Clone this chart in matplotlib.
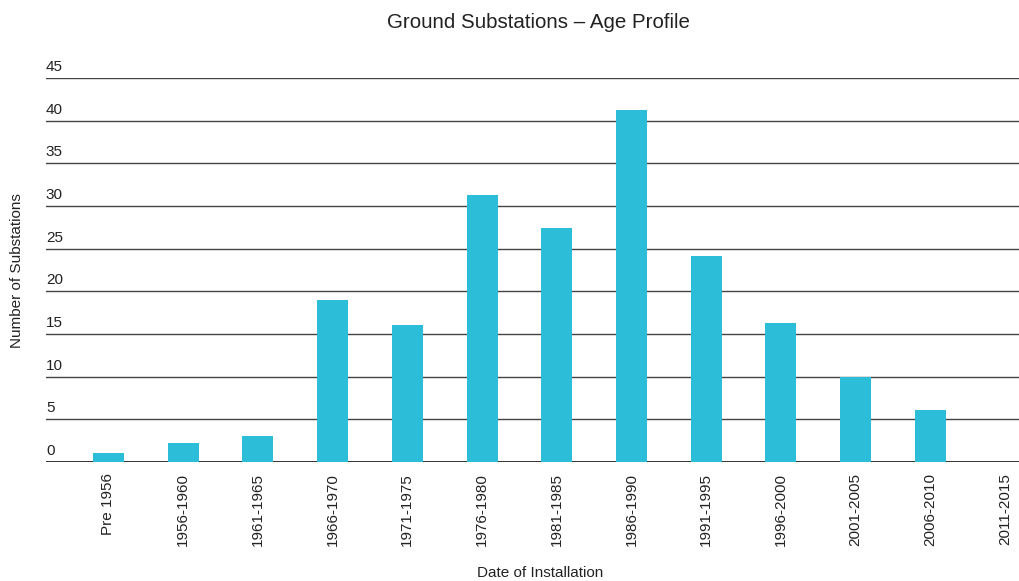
import numpy as np
import matplotlib.pyplot as plt
import matplotlib.transforms as mtransforms

plt.rcParams['font.family'] = ['Liberation Sans', 'DejaVu Sans']

periods = ['Pre 1956', '1956-1960', '1961-1965', '1966-1970', '1971-1975',
           '1976-1980', '1981-1985', '1986-1990', '1991-1995', '1996-2000',
           '2001-2005', '2006-2010', '2011-2015']
counts = [1, 2.2, 3, 19, 16, 31.3, 27.4, 41.2, 24.1, 16.3, 10, 6.1, 0]
yticks = np.arange(0, 50, 5)

fig = plt.figure(figsize=(10.2, 5.81), dpi=100)
ax = fig.add_axes([0.045, 0.2048, 0.955, 0.6609])

x = np.arange(len(periods))
ax.bar(x, counts, width=0.415, color='#2CBDD9', zorder=3)

# gridlines
for v in yticks:
    ax.axhline(v, color='#222222' if v == 0 else '#444444',
               lw=1.3 if v == 0 else 1.0, zorder=2)

ax.set_xlim(-0.837, 12.20)
ax.set_ylim(0, 45)
ax.set_xticks(x)
ax.set_xticklabels(periods, rotation=90, fontsize=11, color='#222222')
ax.tick_params(axis='x', length=0, pad=8)
ax.set_yticks([])

# y labels sit above their gridlines
off = mtransforms.ScaledTranslation(0, 4 / 100, fig.dpi_scale_trans)
tr = ax.get_yaxis_transform() + off
for v in yticks:
    ax.text(0, v, str(v), transform=tr, ha='left', va='bottom',
            fontsize=11, color='#222222')

for s in ax.spines.values():
    s.set_visible(False)

fig.text(0.528, 0.962, 'Ground Substations \u2013 Age Profile', ha='center',
         va='center', fontsize=14.8, color='#222222')
fig.text(0.017, 0.535, 'Number of Substations', rotation=90, ha='center',
         va='center', fontsize=11, color='#222222')
fig.text(0.53, 0.013, 'Date of Installation', ha='center', va='center',
         fontsize=11, color='#222222')

fig.savefig('out.png', dpi=100)
